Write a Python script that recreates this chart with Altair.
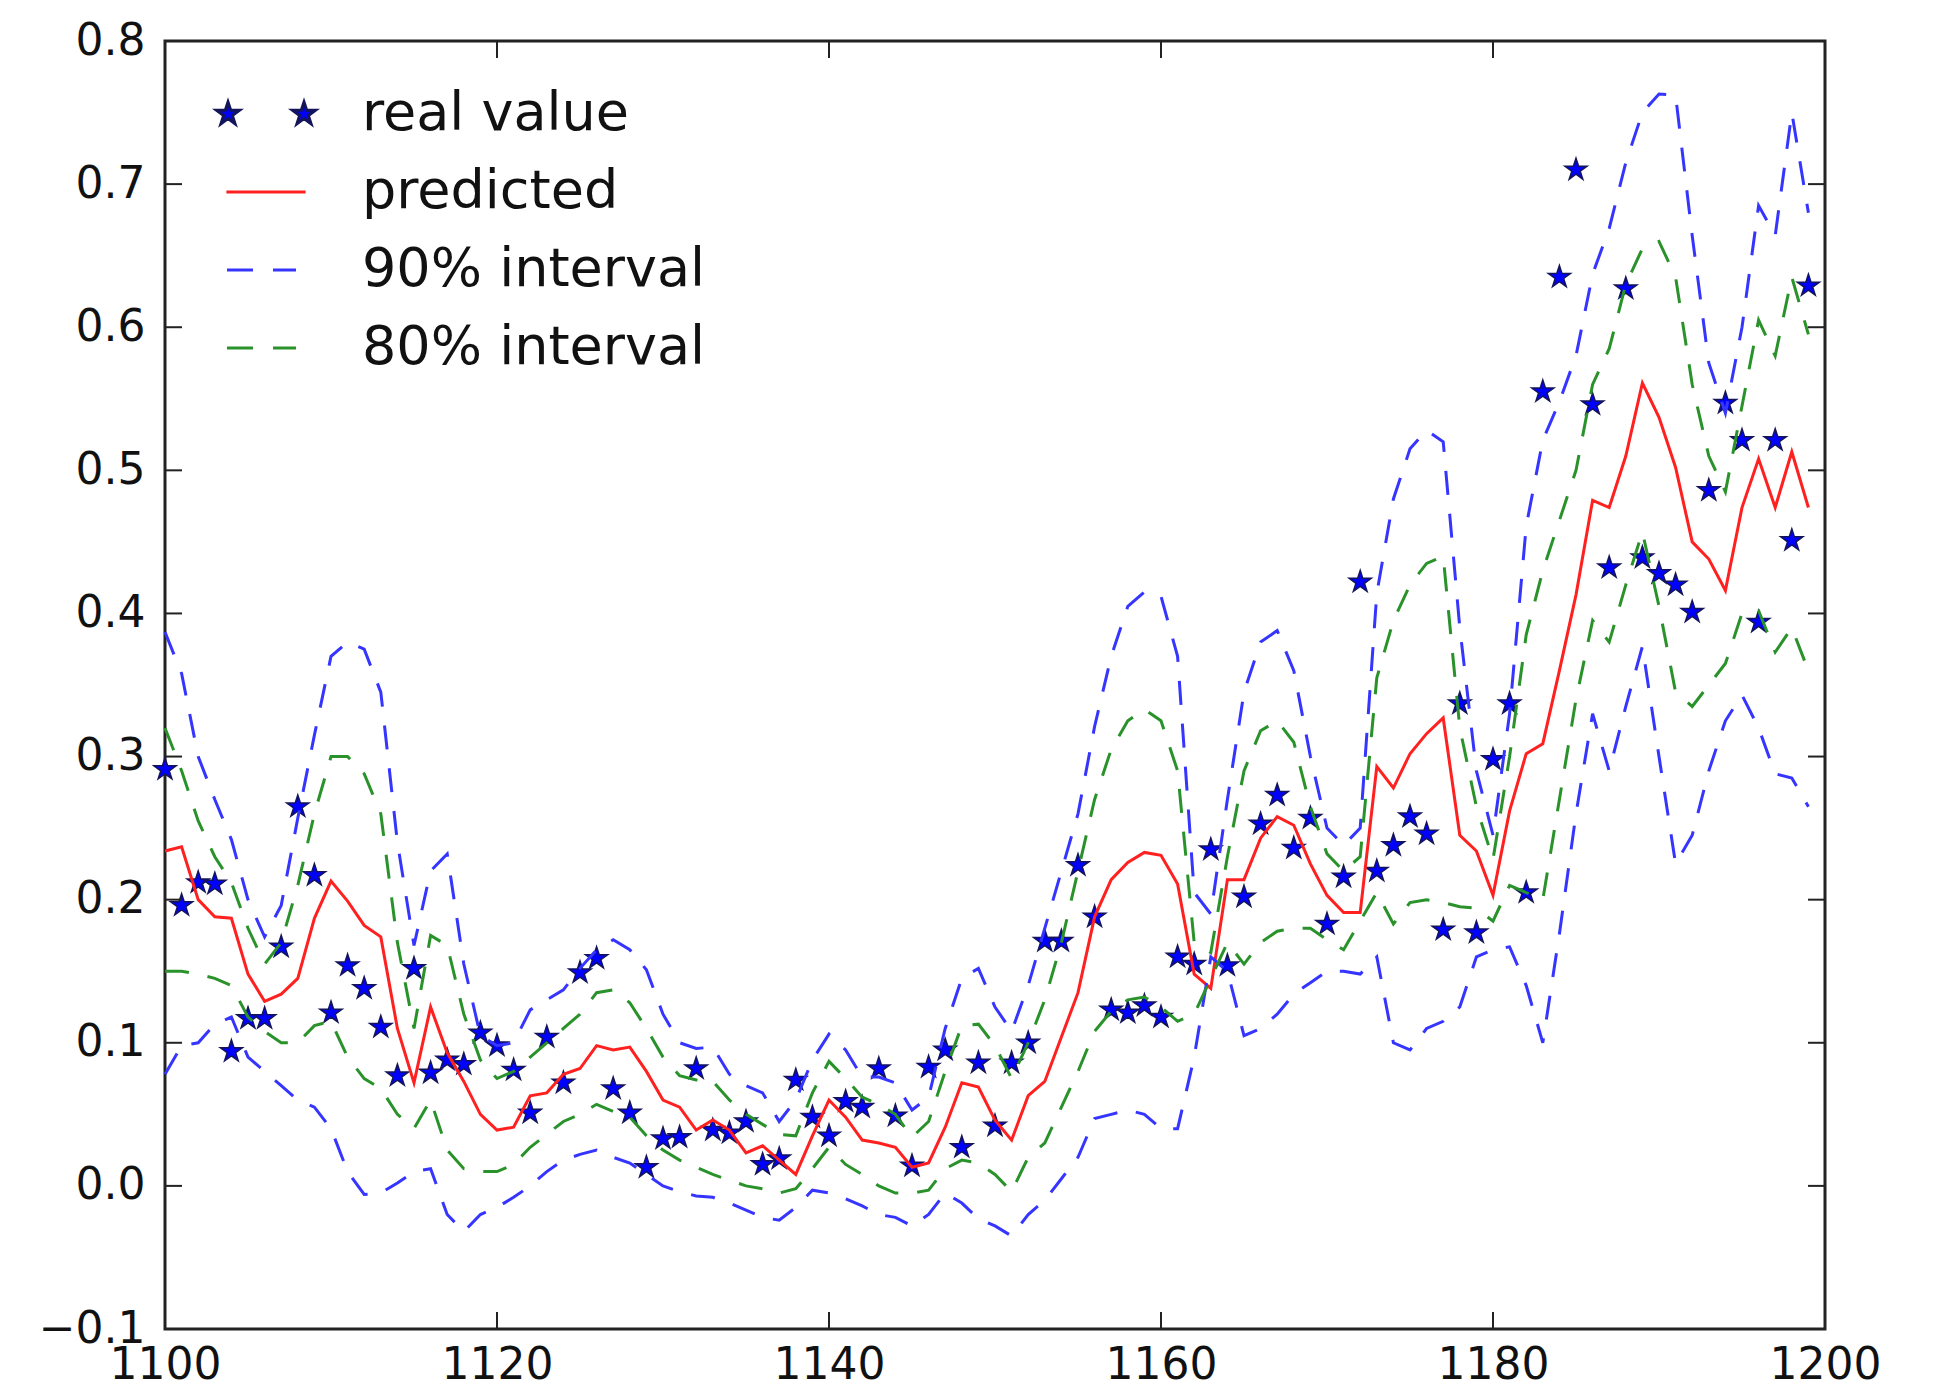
import math
import altair as alt
import pandas as pd

# ---------------- data ----------------
x_values = list(range(1100, 1200))

real_value = [
    0.291, 0.196, 0.212, 0.211, 0.094, 0.117, 0.117, 0.167, 0.265, 0.217,
    0.121, 0.154, 0.138, 0.111, 0.077, 0.152, 0.079, 0.088, 0.085, 0.107,
    0.098, 0.081, 0.051, 0.104, 0.072, 0.149, 0.159, 0.068, 0.051, 0.013,
    0.033, 0.034, 0.082, 0.039, 0.037, 0.045, 0.015, 0.019, 0.074, 0.048,
    0.035, 0.059, 0.055, 0.082, 0.049, 0.014, 0.083, 0.095, 0.027, 0.086,
    0.042, 0.086, 0.100, 0.171, 0.171, 0.224, 0.188, 0.123, 0.121, 0.126,
    0.118, 0.160, 0.155, 0.235, 0.154, 0.202, 0.253, 0.273, 0.236, 0.257,
    0.183, 0.216, 0.422, 0.220, 0.238, 0.258, 0.246, 0.179, 0.337, 0.177,
    0.298, 0.337, 0.205, 0.555, 0.635, 0.710, 0.546, 0.432, 0.627, 0.439,
    0.428, 0.420, 0.401, 0.486, 0.547, 0.521, 0.394, 0.521, 0.451, 0.629,
]

predicted = [
    0.234, 0.237, 0.200, 0.188, 0.187, 0.148, 0.129, 0.134, 0.145, 0.187,
    0.213, 0.199, 0.182, 0.174, 0.110, 0.072, 0.125, 0.093, 0.073, 0.050,
    0.039, 0.041, 0.063, 0.065, 0.078, 0.082, 0.098, 0.095, 0.097, 0.080,
    0.060, 0.055, 0.039, 0.046, 0.039, 0.023, 0.028, 0.018, 0.008, 0.035,
    0.060, 0.048, 0.032, 0.030, 0.027, 0.013, 0.016, 0.041, 0.072, 0.069,
    0.046, 0.032, 0.063, 0.073, 0.104, 0.135, 0.188, 0.214, 0.226, 0.233,
    0.231, 0.211, 0.148, 0.138, 0.214, 0.214, 0.243, 0.258, 0.252, 0.225,
    0.203, 0.191, 0.191, 0.293, 0.278, 0.302, 0.316, 0.327, 0.245, 0.234,
    0.203, 0.262, 0.302, 0.309, 0.360, 0.413, 0.479, 0.474, 0.510, 0.561,
    0.537, 0.502, 0.450, 0.438, 0.416, 0.474, 0.508, 0.474, 0.513, 0.474,
]

upper_90 = [
    0.387, 0.358, 0.300, 0.270, 0.242, 0.200, 0.174, 0.196, 0.257, 0.315,
    0.370, 0.380, 0.375, 0.345, 0.240, 0.168, 0.220, 0.232, 0.155, 0.105,
    0.098, 0.100, 0.123, 0.130, 0.137, 0.152, 0.165, 0.172, 0.165, 0.151,
    0.120, 0.100, 0.096, 0.097, 0.078, 0.070, 0.065, 0.045, 0.060, 0.088,
    0.106, 0.095, 0.076, 0.076, 0.072, 0.053, 0.062, 0.110, 0.145, 0.152,
    0.125, 0.108, 0.140, 0.180, 0.220, 0.260, 0.321, 0.370, 0.405, 0.415,
    0.412, 0.370, 0.205, 0.190, 0.270, 0.345, 0.380, 0.388, 0.360, 0.300,
    0.250, 0.238, 0.250, 0.414, 0.480, 0.515, 0.528, 0.520, 0.390, 0.290,
    0.245, 0.330, 0.461, 0.521, 0.548, 0.580, 0.637, 0.669, 0.715, 0.750,
    0.763, 0.762, 0.664, 0.575, 0.540, 0.600, 0.685, 0.664, 0.750, 0.680,
]

lower_90 = [
    0.078, 0.098, 0.100, 0.113, 0.118, 0.090, 0.080, 0.070, 0.060, 0.055,
    0.040, 0.010, -0.006, -0.005, 0.002, 0.010, 0.012, -0.020, -0.032, -0.020,
    -0.015, -0.008, 0.000, 0.010, 0.018, 0.022, 0.025, 0.020, 0.016, 0.008,
    0.000, -0.004, -0.007, -0.008, -0.012, -0.017, -0.022, -0.024, -0.015, -0.003,
    -0.005, -0.009, -0.014, -0.020, -0.022, -0.028, -0.020, -0.005, -0.012, -0.023,
    -0.028, -0.035, -0.020, -0.010, 0.005, 0.020, 0.047, 0.050, 0.053, 0.050,
    0.040, 0.040, 0.090, 0.160, 0.150, 0.105, 0.110, 0.120, 0.134, 0.142,
    0.150, 0.150, 0.148, 0.160, 0.100, 0.095, 0.110, 0.115, 0.125, 0.160,
    0.165, 0.167, 0.140, 0.100, 0.176, 0.260, 0.330, 0.290, 0.335, 0.377,
    0.300, 0.225, 0.245, 0.290, 0.325, 0.343, 0.320, 0.288, 0.285, 0.265,
]

upper_80 = [
    0.320, 0.290, 0.255, 0.230, 0.212, 0.180, 0.155, 0.170, 0.210, 0.260,
    0.300, 0.300, 0.288, 0.260, 0.170, 0.110, 0.175, 0.168, 0.120, 0.088,
    0.075, 0.080, 0.090, 0.100, 0.110, 0.120, 0.135, 0.137, 0.128, 0.110,
    0.090, 0.077, 0.074, 0.073, 0.060, 0.050, 0.043, 0.036, 0.035, 0.065,
    0.087, 0.075, 0.062, 0.057, 0.050, 0.034, 0.045, 0.080, 0.112, 0.113,
    0.098, 0.075, 0.100, 0.130, 0.170, 0.220, 0.270, 0.305, 0.325, 0.333,
    0.325, 0.290, 0.170, 0.163, 0.230, 0.290, 0.318, 0.325, 0.310, 0.265,
    0.232, 0.220, 0.230, 0.355, 0.395, 0.420, 0.435, 0.440, 0.320, 0.265,
    0.228, 0.300, 0.385, 0.430, 0.465, 0.500, 0.560, 0.585, 0.630, 0.655,
    0.660, 0.635, 0.560, 0.510, 0.485, 0.545, 0.605, 0.580, 0.635, 0.595,
]

lower_80 = [
    0.150, 0.150, 0.148, 0.145, 0.140, 0.118, 0.108, 0.100, 0.100, 0.112,
    0.115, 0.090, 0.075, 0.068, 0.050, 0.040, 0.060, 0.025, 0.012, 0.010,
    0.010, 0.015, 0.027, 0.036, 0.045, 0.050, 0.057, 0.052, 0.048, 0.035,
    0.025, 0.018, 0.013, 0.008, 0.004, 0.000, -0.002, -0.005, -0.002, 0.012,
    0.027, 0.015, 0.008, 0.000, -0.005, -0.005, -0.003, 0.012, 0.018, 0.016,
    0.008, -0.004, 0.020, 0.030, 0.055, 0.080, 0.108, 0.122, 0.130, 0.132,
    0.125, 0.115, 0.120, 0.145, 0.170, 0.155, 0.170, 0.178, 0.180, 0.180,
    0.172, 0.165, 0.185, 0.205, 0.183, 0.198, 0.200, 0.198, 0.195, 0.194,
    0.185, 0.210, 0.205, 0.200, 0.270, 0.340, 0.395, 0.380, 0.420, 0.457,
    0.405, 0.345, 0.335, 0.350, 0.365, 0.400, 0.402, 0.373, 0.390, 0.360,
]

series_names = ["real value", "predicted", "90% interval", "80% interval"]
x_ticks = [1100, 1120, 1140, 1160, 1180, 1200]
y_ticks = [-0.1, 0.0, 0.1, 0.2, 0.3, 0.4, 0.5, 0.6, 0.7, 0.8]

# ---------------- styling ----------------
W, H = 1660, 1288
FONT = "DejaVu Sans"
RED = "#ff2020"
BLUE = "#3535ff"
GREEN = "#2a922a"
STAR_FILL = "#0000ff"
STAR_EDGE = "#14145a"
DASH = [24, 19]
TICK_LEN = 17


def star_path(cx=0.0, scale=1.0):
    pts = []
    for k in range(10):
        r = 1.0 if k % 2 == 0 else 0.382
        a = math.radians(-90 + 36 * k)
        pts.append((cx + scale * r * math.cos(a), scale * r * math.sin(a)))
    return "M" + "L".join(f"{px:.4f},{py:.4f}" for px, py in pts) + "Z"


STAR = star_path()
LEG_STARS = star_path(-1.9, 0.6) + star_path(1.9, 0.6)
LEG_LINE = "M-1.98,0L1.98,0"
LEG_DASH = "M-1.95,0L-0.65,0M0.35,0L1.5,0"

xscale = alt.Scale(domain=[1100, 1200], nice=False, zero=False)
yscale = alt.Scale(domain=[-0.1, 0.8], nice=False, zero=False)
XAX = alt.Axis(values=x_ticks, format="d", title=None, labelFlush=False,
               labelOverlap=False, domain=False, ticks=False, grid=False,
               labelPadding=14)
YAX = alt.Axis(values=y_ticks, format=".1f", title=None, labelFlush=False,
               labelOverlap=False, domain=False, ticks=False, grid=False,
               labelPadding=20)

# ---------------- tables ----------------
df = pd.DataFrame({
    "x": x_values,
    "real": real_value,
    "pred": predicted,
})
band90 = pd.DataFrame({
    "x": x_values * 2,
    "v": upper_90 + lower_90,
    "side": ["upper"] * len(x_values) + ["lower"] * len(x_values),
})
band80 = pd.DataFrame({
    "x": x_values * 2,
    "v": upper_80 + lower_80,
    "side": ["upper"] * len(x_values) + ["lower"] * len(x_values),
})
yt = pd.DataFrame({"t": y_ticks})
xt = pd.DataFrame({"t": x_ticks})
legend_df = pd.DataFrame({"series": series_names})

# ---------------- layers ----------------
stars = alt.Chart(df).mark_point(
    shape=STAR, filled=True, fill=STAR_FILL, stroke=STAR_EDGE,
    strokeWidth=1.5, size=540, opacity=1
).encode(
    x=alt.X("x:Q", scale=xscale, axis=XAX),
    y=alt.Y("real:Q", scale=yscale, axis=YAX),
)

pred_line = alt.Chart(df).mark_line(color=RED, strokeWidth=3).encode(
    x=alt.X("x:Q", scale=xscale, axis=XAX),
    y=alt.Y("pred:Q", scale=yscale, axis=YAX),
)

line90 = alt.Chart(band90).mark_line(color=BLUE, strokeWidth=3, strokeDash=DASH).encode(
    x=alt.X("x:Q", scale=xscale, axis=XAX),
    y=alt.Y("v:Q", scale=yscale, axis=YAX),
    detail="side:N",
)

line80 = alt.Chart(band80).mark_line(color=GREEN, strokeWidth=3, strokeDash=DASH).encode(
    x=alt.X("x:Q", scale=xscale, axis=XAX),
    y=alt.Y("v:Q", scale=yscale, axis=YAX),
    detail="side:N",
)

tick_style = dict(color="#222222", strokeWidth=2)
ytick_left = alt.Chart(yt).mark_rule(**tick_style).encode(
    y=alt.Y("t:Q", scale=yscale, axis=YAX), x=alt.value(0), x2=alt.value(TICK_LEN))
ytick_right = alt.Chart(yt).mark_rule(**tick_style).encode(
    y=alt.Y("t:Q", scale=yscale, axis=YAX), x=alt.value(W - TICK_LEN), x2=alt.value(W))
xtick_bottom = alt.Chart(xt).mark_rule(**tick_style).encode(
    x=alt.X("t:Q", scale=xscale, axis=XAX), y=alt.value(H - TICK_LEN), y2=alt.value(H))
xtick_top = alt.Chart(xt).mark_rule(**tick_style).encode(
    x=alt.X("t:Q", scale=xscale, axis=XAX), y=alt.value(0), y2=alt.value(TICK_LEN))

LEG = alt.Legend(
    title=None, orient="none", legendX=34, legendY=46,
    labelFont=FONT, labelFontSize=54, labelColor="#111111", labelLimit=800,
    symbolSize=1600, symbolStrokeWidth=3, symbolOffset=40, labelOffset=69,
    rowPadding=24, padding=0,
)
legend_layer = alt.Chart(legend_df).mark_point(filled=True, opacity=1).encode(
    fill=alt.Fill("series:N", title=None, legend=LEG, scale=alt.Scale(
        domain=series_names,
        range=[STAR_FILL, "transparent", "transparent", "transparent"])),
    stroke=alt.Stroke("series:N", title=None, legend=LEG, scale=alt.Scale(
        domain=series_names, range=[STAR_EDGE, RED, BLUE, GREEN])),
    shape=alt.Shape("series:N", title=None, legend=LEG, scale=alt.Scale(
        domain=series_names, range=[LEG_STARS, LEG_LINE, LEG_DASH, LEG_DASH])),
).transform_filter("false")

chart = alt.layer(
    stars, pred_line, line90, line80,
    ytick_left, ytick_right, xtick_bottom, xtick_top,
    legend_layer,
).properties(
    width=W, height=H,
    autosize=alt.AutoSizeParams(type="none"),
    padding={"left": 157, "top": 33, "right": 110, "bottom": 60},
    background="white",
).configure_view(
    stroke="#222222", strokeWidth=3,
).configure_axis(
    labelFont=FONT, labelFontSize=44, labelColor="#111111",
)

chart.save("out.html", embed_options={"renderer": "svg", "actions": False})
